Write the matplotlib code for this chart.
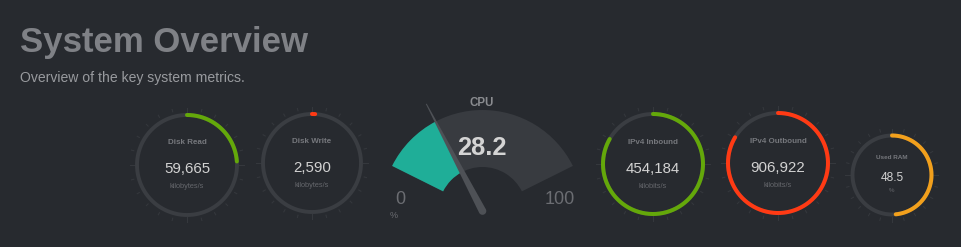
import numpy as np
import matplotlib
matplotlib.use("Agg")
import matplotlib.pyplot as plt

plt.rcParams['font.family'] = ['Liberation Sans', 'DejaVu Sans']

# data
ring_labels = ["Disk Read", "Disk Write", "IPv4 Inbound", "IPv4 Outbound", "Used RAM"]
ring_values = [59665, 2590, 454184, 906922, 48.5]
ring_max = [250000, 250000, 545000, 1085000, 100]
ring_units = ["kilobytes/s", "kilobytes/s", "kilobits/s", "kilobits/s", "%"]
cpu_label = "CPU"
cpu_value = 28.2
cpu_min, cpu_max = 0, 100
cpu_unit = "%"

# styling / layout
W, H = 962, 247
BG = "#272a2f"
TRACK = "#3a3d42"
TICK = "#35383d"
ring_colors = ["#64a80a", "#ff3a14", "#64a80a", "#ff3a14", "#f2a01c"]
ring_cx = [187, 312, 653, 778, 892]
ring_cy = [165, 163, 164, 163, 175]
ring_r = [50, 49, 50, 50, 39.5]
label_size = [5.8, 5.8, 5.8, 5.8, 4.6]
value_size = [10.8, 10.8, 10.8, 10.8, 8.6]
unit_size = [5.3, 5.3, 5.3, 5.3, 4.4]
label_dy = [-21, -20, -20, -20, -16]
value_dy = [8, 8.5, 8.5, 8.5, 5.5]
unit_dy = [23, 24, 24, 24, 17]

fig = plt.figure(figsize=(W / 100, H / 100), dpi=100, facecolor=BG)


def polar_ax(cx, cy, R):
    ax = fig.add_axes([(cx - R) / W, 1 - (cy + R) / H, 2 * R / W, 2 * R / H],
                      projection='polar')
    ax.axis('off')
    ax.set_facecolor('none')
    return ax


px = 0.72  # points per pixel

for i, v in enumerate(ring_values):
    r = ring_r[i]
    R = r + 12
    ax = polar_ax(ring_cx[i], ring_cy[i], R)
    ax.set_theta_zero_location('N')
    ax.set_theta_direction(-1)
    # ticks every 15 degrees, longer at quarters
    for deg in range(0, 360, 15):
        t = np.deg2rad(deg)
        if deg % 90 == 0:
            ax.plot([t, t], [r + 2, r + 7], color=TICK, lw=1.0 * px)
        else:
            ax.plot([t, t], [r + 5, r + 7.5], color=TICK, lw=1.0 * px)
    th = np.linspace(0, 2 * np.pi, 400)
    ax.plot(th, np.full_like(th, r), color=TRACK, lw=3.9 * px)
    frac = v / ring_max[i]
    th = np.linspace(0, 2 * np.pi * frac, 300)
    ax.plot(th, np.full_like(th, r), color=ring_colors[i], lw=4.0 * px,
            solid_capstyle='round')
    ax.set_ylim(0, R)

# CPU gauge
start, end = 153.5, 26.5
r_in, r_out = 44, 101
cpu_ax = polar_ax(482.5, 211, 125)
span = np.deg2rad(start - end)
cpu_ax.bar(np.deg2rad((start + end) / 2), r_out - r_in, width=span, bottom=r_in,
           color="#383b40", linewidth=0)
v_ang = np.deg2rad(start - (cpu_value - cpu_min) / (cpu_max - cpu_min) * (start - end))
cpu_ax.bar((np.deg2rad(start) + v_ang) / 2, r_out - r_in, width=np.deg2rad(start) - v_ang,
           bottom=r_in, color="#1fae98", linewidth=0)
back = v_ang + np.linspace(np.pi / 2, 3 * np.pi / 2, 25)
nt = np.concatenate([back, [v_ang - 0.004, v_ang + 0.004]])
nr = np.concatenate([np.full_like(back, 3.8), [121, 121]])
cpu_ax.fill(nt, nr, color="#4e5156", linewidth=0)
cpu_ax.set_ylim(0, 125)

# text overlay
tx = fig.add_axes([0, 0, 1, 1])
tx.set_xlim(0, W)
tx.set_ylim(H, 0)
tx.axis('off')
tx.set_facecolor('none')

tx.text(20, 52, "System Overview", fontsize=25, fontweight='bold', color="#7f8186",
        va='baseline', ha='left')
tx.text(20, 82, "Overview of the key system metrics.", fontsize=10.1, color="#989a9e",
        va='baseline', ha='left')

for i, v in enumerate(ring_values):
    cx, cy = ring_cx[i], ring_cy[i]
    txt = f"{v:.1f}" if ring_max[i] == 100 else f"{v:,.0f}"
    tx.text(cx, cy + label_dy[i], ring_labels[i], fontsize=label_size[i], fontweight='bold',
            color="#76787d", ha='center', va='baseline')
    tx.text(cx, cy + value_dy[i], txt, fontsize=value_size[i], color="#d2d2d2",
            ha='center', va='baseline')
    tx.text(cx, cy + unit_dy[i], ring_units[i], fontsize=unit_size[i], color="#65676c",
            ha='center', va='baseline')

tx.text(482, 106, cpu_label, fontsize=8.3, fontweight='bold', color="#8a8c90",
        ha='center', va='baseline')
tx.text(482, 155, f"{cpu_value:.1f}", fontsize=18.4, fontweight='bold', color="#d4d4d4",
        ha='center', va='baseline')
tx.text(400, 204, str(cpu_min), fontsize=13, color="#6b6d72", ha='center', va='baseline')
tx.text(560, 204, str(cpu_max), fontsize=13, color="#6b6d72", ha='center', va='baseline')
tx.text(394, 217.5, cpu_unit, fontsize=6.5, color="#6b6d72", ha='center', va='baseline')

fig.savefig("out.png", dpi=100, facecolor=BG)
